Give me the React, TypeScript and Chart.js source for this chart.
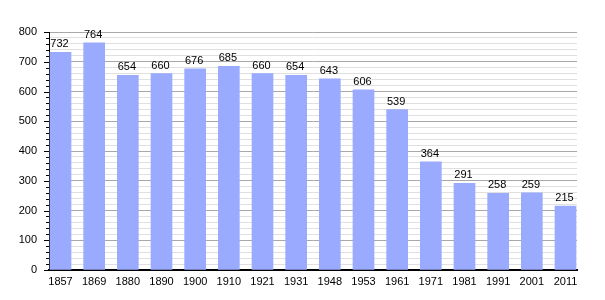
import React, { useEffect, useRef } from "react";
import { Chart, registerables } from "chart.js";

Chart.register(...registerables);

const years = ["1857", "1869", "1880", "1890", "1900", "1910", "1921", "1931", "1948", "1953", "1961", "1971", "1981", "1991", "2001", "2011"];
const population = [732, 764, 654, 660, 676, 685, 660, 654, 643, 606, 539, 364, 291, 258, 259, 215];
const yTickValues = [0, 100, 200, 300, 400, 500, 600, 700, 800];

const FONT = "'Liberation Sans', Arial, sans-serif";

const valueLabels = {
  id: "valueLabels",
  afterDatasetsDraw(chart: any) {
    const ctx = chart.ctx;
    const meta = chart.getDatasetMeta(0);
    ctx.save();
    ctx.font = `11px ${FONT}`;
    ctx.fillStyle = "#000";
    ctx.textAlign = "center";
    ctx.textBaseline = "alphabetic";
    meta.data.forEach((bar: any, i: number) => {
      ctx.fillText(String(population[i]), bar.x - 1, bar.y - 5);
    });
    ctx.restore();
  },
};

const yTickMarks = {
  id: "yTickMarks",
  afterDraw(chart: any) {
    const ctx = chart.ctx;
    const ys = chart.scales.y;
    const left = chart.chartArea.left;
    ctx.save();
    ctx.strokeStyle = "#000";
    ctx.lineWidth = 1;
    for (let v = 0; v <= 800; v += 20) {
      const y = Math.round(ys.getPixelForValue(v)) + 0.5;
      const len = v % 100 === 0 ? 5 : 3;
      ctx.beginPath();
      ctx.moveTo(left - len, y);
      ctx.lineTo(left, y);
      ctx.stroke();
    }
    ctx.restore();
  },
};

export default function App() {
  const ref = useRef<HTMLCanvasElement>(null);
  useEffect(() => {
    if (!ref.current) return;
    const chart = new Chart(ref.current, {
      type: "bar",
      data: {
        datasets: [
          {
            data: population.map((v, i) => ({ x: i, y: v })),
            backgroundColor: "#99aaff",
            borderWidth: 0,
            barThickness: 21,
          } as any,
        ],
      },
      options: {
        responsive: false,
        animation: false,
        layout: { padding: { left: 0, right: 28, top: 32, bottom: 0 } },
        plugins: { legend: { display: false }, tooltip: { enabled: false } },
        scales: {
          x: {
            type: "linear",
            offset: false,
            min: -0.3416,
            max: 15.3416,
            afterFit(scale: any) {
              scale.height = 30;
            },
            grid: { display: false, drawTicks: false, offset: false },
            border: { color: "#000", width: 2 },
            ticks: {
              stepSize: 1,
              includeBounds: false,
              autoSkip: false,
              maxRotation: 0,
              padding: 5,
              color: "#000",
              font: { family: FONT, size: 11 },
              callback: (v: any) => (Number.isInteger(v) && years[v] ? years[v] : ""),
            },
          },
          y: {
            min: 0,
            max: 800,
            afterFit(scale: any) {
              scale.width = 49;
            },
            afterBuildTicks(scale: any) {
              const t = [];
              for (let v = 0; v <= 800; v += 20) t.push({ value: v });
              scale.ticks = t;
            },
            grid: {
              drawTicks: false,
              color: (c: any) => (c.tick && c.tick.value % 100 === 0 ? "#a8a8a8" : "#e0e0e0"),
            },
            border: { color: "#000", width: 1 },
            ticks: {
              autoSkip: false,
              padding: 12,
              color: "#000",
              font: { family: FONT, size: 11 },
              callback: (v: any) => (yTickValues.includes(v) ? String(v) : ""),
            },
          },
        },
      },
      plugins: [valueLabels, yTickMarks],
    });
    return () => chart.destroy();
  }, []);
  return (
    <canvas
      ref={ref}
      width={605}
      height={300}
      style={{ position: "absolute", left: 0, top: 0, width: 605, height: 300, background: "#fff" }}
    />
  );
}
